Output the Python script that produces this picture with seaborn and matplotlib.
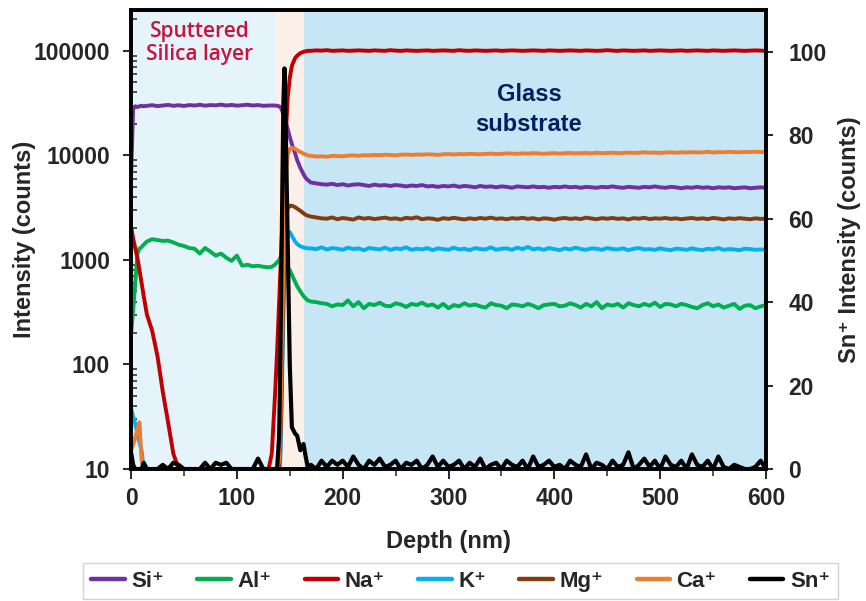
import matplotlib
matplotlib.use("Agg")
import matplotlib.pyplot as plt
from matplotlib.lines import Line2D
from matplotlib.ticker import LogLocator, MultipleLocator, NullFormatter, FuncFormatter
import pandas as pd
import seaborn as sns

# ---------------- depth grids (nm) ----------------
depth_layer = [0, 2, 4, 6, 8, 10, 12, 15, 20, 25, 30, 35, 40, 45, 50, 55, 60, 65, 70,
               75, 80, 85, 90, 95, 100, 105, 110, 115, 120, 125, 130]
depth_iface = [133, 136, 138, 140, 141, 142, 143, 144, 145, 146, 147, 148, 150, 152,
               155, 157, 160, 163, 165, 167]
depth_glass = list(range(170, 601, 5))

# ---------------- Si+ ----------------
si_layer = [6000, 28000, 29500, 29000, 29500, 29800, 29500, 29800, 30200, 29600, 30000,
            30400, 29800, 30200, 29700, 30300, 30000, 30500, 29900, 30300, 30100, 30600,
            30000, 30400, 29900, 30200, 30500, 30000, 30300, 29800, 30000]
si_iface = [30000, 30000, 29800, 29500, 29000, 28000, 26500, 24500, 22500, 21000, 19500,
            18000, 15000, 12800, 10500, 9000, 7600, 6600, 6100, 5800]
si_glass = [5500, 5400, 5300, 5250, 5350, 5200, 5300, 5150, 5250, 5300,
            5200, 5100, 5250, 5150, 5200, 5100, 5200, 5150, 5050, 5150,
            5100, 5200, 5050, 5100, 5000, 5100, 5050, 5150, 5000, 5100,
            5050, 4950, 5100, 5000, 5050, 4950, 5050, 5000, 4900, 5050,
            5000, 4950, 5050, 4950, 5000, 4900, 5000, 4950, 5050, 4950,
            5000, 4900, 5000, 4950, 4900, 5000, 4950, 5050, 4950, 4900,
            5000, 4950, 4900, 5000, 4950, 5050, 4950, 4900, 5000, 4950,
            4850, 4950, 4900, 5000, 4900, 4950, 4850, 4950, 4900, 4950,
            4850, 4900, 4950, 4850, 4900, 4950, 4900]

# ---------------- Al+ ----------------
al_layer = [190, 330, 600, 1150, 1280, 1330, 1400, 1500, 1580, 1550, 1520, 1530, 1470,
            1400, 1360, 1300, 1280, 1150, 1300, 1200, 1100, 1150, 1050, 980, 1100, 880,
            900, 870, 880, 860, 850]
al_iface = [860, 900, 950, 1000, 1050, 1050, 1000, 980, 950, 920, 880, 850, 800, 720,
            620, 560, 500, 450, 430, 410]
al_glass = [400, 395, 385, 380, 360, 375, 370, 410, 360, 395,
            345, 380, 370, 390, 365, 360, 385, 375, 355, 380,
            370, 390, 365, 375, 350, 380, 345, 370, 360, 385,
            365, 375, 360, 350, 385, 370, 365, 345, 375, 370,
            360, 380, 365, 345, 370, 375, 380, 360, 365, 385,
            370, 350, 380, 360, 395, 345, 375, 365, 380, 350,
            385, 370, 360, 380, 365, 390, 355, 380, 375, 360,
            380, 370, 355, 345, 370, 385, 360, 375, 350, 365,
            380, 340, 365, 370, 345, 360, 370]

# ---------------- Na+ ----------------
na_layer = [2100, 1600, 1300, 1050, 800, 600, 450, 300, 210, 120, 55, 28, 14, 10, 10, 10,
            10, 10, 10, 10, 10, 10, 10, 10, 10, 10, 10, 10, 10, 10, 10]
na_iface = [14, 50, 130, 400, 700, 1200, 2200, 4000, 8000, 14000, 22000, 35000, 55000,
            72000, 85000, 90000, 95000, 98000, 99000, 100000]
na_glass = [100000, 101000, 100500, 101500, 100000, 100500, 101000, 100000, 100500, 101000,
            100500, 100000, 101000, 100500, 100000, 101500, 100500, 100000, 101000, 100500,
            100000, 100500, 101000, 100000, 100500, 101000, 100500, 100000, 101500, 100500,
            100000, 101000, 100500, 100000, 100500, 101000, 100000, 100500, 101000, 100500,
            100000, 100500, 101000, 100500, 100000, 101000, 100500, 100000, 100500, 101000,
            100500, 100000, 101000, 100500, 100000, 100500, 101500, 100500, 100000, 101000,
            100500, 100000, 100500, 101000, 100000, 100500, 101000, 100500, 100000, 100500,
            101000, 100000, 100500, 101000, 100500, 100000, 101000, 100500, 100000, 100500,
            101000, 100500, 100000, 100500, 101000, 100500, 100000]

# ---------------- K+ ----------------
k_layer = [38, 32, 27, 22, 18, 15, 10, 10, 10, 10, 10, 10, 10, 10, 10, 10, 10, 10, 10,
           10, 10, 10, 10, 10, 10, 10, 10, 10, 10, 10, 10]
k_iface = [10, 10, 10, 10, 12, 30, 100, 300, 700, 1200, 1600, 1800, 1850, 1700, 1500,
           1420, 1350, 1320, 1300, 1290]
k_glass = [1290, 1270, 1320, 1260, 1300, 1280, 1250, 1310, 1270, 1290,
           1240, 1300, 1280, 1260, 1310, 1250, 1290, 1270, 1320, 1250,
           1280, 1260, 1300, 1240, 1290, 1270, 1250, 1310, 1260, 1280,
           1240, 1300, 1270, 1260, 1320, 1250, 1280, 1290, 1250, 1310,
           1270, 1330, 1260, 1290, 1250, 1300, 1270, 1240, 1290, 1260,
           1310, 1270, 1250, 1290, 1280, 1250, 1300, 1270, 1260, 1290,
           1240, 1280, 1300, 1260, 1270, 1250, 1290, 1260, 1240, 1280,
           1270, 1250, 1290, 1260, 1240, 1280, 1260, 1300, 1250, 1270,
           1260, 1240, 1280, 1270, 1250, 1260, 1250]

# ---------------- Mg+ ----------------
mg_layer = [12, 10, 10, 10, 10, 10, 10, 10, 10, 10, 10, 10, 10, 10, 10, 10, 10, 10, 10,
            10, 10, 10, 10, 10, 10, 10, 10, 10, 10, 10, 10]
mg_iface = [10, 10, 10, 10, 15, 40, 150, 500, 1200, 2000, 2700, 3100, 3300, 3300, 3200,
            3100, 2950, 2800, 2700, 2650]
mg_glass = [2600, 2550, 2500, 2480, 2550, 2450, 2520, 2480, 2430, 2550,
            2480, 2520, 2460, 2500, 2540, 2470, 2500, 2440, 2530, 2490,
            2560, 2450, 2500, 2480, 2420, 2510, 2470, 2530, 2480, 2440,
            2500, 2460, 2520, 2480, 2540, 2470, 2500, 2450, 2510, 2480,
            2530, 2470, 2510, 2440, 2500, 2480, 2430, 2490, 2520, 2470,
            2500, 2460, 2540, 2490, 2450, 2510, 2480, 2520, 2470, 2500,
            2440, 2510, 2480, 2530, 2460, 2500, 2480, 2520, 2470, 2500,
            2450, 2490, 2520, 2470, 2500, 2460, 2520, 2490, 2440, 2500,
            2470, 2510, 2480, 2450, 2500, 2470, 2480]

# ---------------- Ca+ ----------------
ca_layer = [15, 17, 20, 24, 28, 12, 10, 10, 10, 10, 10, 10, 10, 10, 10, 10, 10, 10, 10,
            10, 10, 10, 10, 10, 10, 10, 10, 10, 10, 10, 10]
ca_iface = [10, 10, 10, 12, 25, 80, 300, 900, 2500, 5000, 8000, 10000, 11500, 11800,
            11600, 11200, 10800, 10400, 10200, 10000]
ca_glass = [9900, 9750, 9800, 9700, 9900, 9850, 9800, 9950, 10000, 9900,
            10050, 10000, 10100, 10050, 10150, 10100, 10000, 10150, 10200, 10100,
            10200, 10150, 10250, 10200, 10100, 10250, 10300, 10200, 10300, 10250,
            10350, 10300, 10250, 10350, 10400, 10300, 10350, 10450, 10400, 10350,
            10450, 10400, 10500, 10450, 10350, 10450, 10500, 10400, 10500, 10550,
            10450, 10500, 10550, 10450, 10600, 10500, 10550, 10600, 10500, 10550,
            10650, 10550, 10600, 10700, 10600, 10650, 10550, 10650, 10700, 10600,
            10700, 10650, 10750, 10650, 10700, 10800, 10650, 10750, 10700, 10800,
            10750, 10700, 10800, 10750, 10850, 10750, 10800]

# ---------------- Sn+ (right axis, linear) ----------------
sn_layer = [4, 1, 0, 0, 0, 0, 1.5, 0, 0, 0, 1, 0, 1.5, 1, 0, 0, 0, 0, 1.5, 0, 1.5, 1,
            1.5, 0, 0, 0, 0, 0, 2.5, 0, 0]
sn_iface = [0, 0, 0, 8, 25, 45, 68, 88, 96, 85, 70, 55, 25, 10, 8.5, 8, 4.5, 6, 3, 0.5]
sn_glass = [1, 0, 2, 0.5, 2, 1, 2, 0.5, 3, 1,
            0, 2, 1, 2.5, 0.5, 1, 2, 0, 1.5, 1,
            2, 0, 1, 3, 0.5, 2, 0.5, 1, 2, 0,
            1.5, 0.5, 2.5, 0, 1, 1.5, 0, 2, 1, 0.5,
            2, 0, 3, 0.5, 1, 2, 0.5, 1, 0, 2,
            1, 0.5, 3.5, 0, 1.5, 1, 0, 2, 0.5, 1,
            4, 0, 1, 2.5, 0.5, 2, 0, 3, 1, 0.5,
            2, 0, 3.5, 1, 0.5, 2, 0, 3, 0.5, 0,
            1, 0.5, 0, 0, 0.5, 2, 0]

ion_labels = ["Si⁺", "Al⁺", "Na⁺", "K⁺", "Mg⁺", "Ca⁺", "Sn⁺"]
ion_colors = ["#7030A0", "#00B050", "#C00000", "#00B0F0", "#843C0C", "#ED7D31", "#000000"]

# region boundaries (nm) and fills
region_edges = [0, 136, 163, 600]
region_colors = ["#E5F3FA", "#FBEFEA", "#C6E5F5"]

depth = depth_layer + depth_iface + depth_glass
left_series = [
    si_layer + si_iface + si_glass,
    al_layer + al_iface + al_glass,
    na_layer + na_iface + na_glass,
    k_layer + k_iface + k_glass,
    mg_layer + mg_iface + mg_glass,
    ca_layer + ca_iface + ca_glass,
]
sn = sn_layer + sn_iface + sn_glass

df = pd.concat(
    [pd.DataFrame({"depth": depth, "counts": vals, "ion": name})
     for name, vals in zip(ion_labels[:6], left_series)],
    ignore_index=True,
)
df_sn = pd.DataFrame({"depth": depth, "counts": sn})

sns.set_style("ticks")
plt.rcParams["font.family"] = ["Liberation Sans", "DejaVu Sans"]
plt.rcParams["font.weight"] = "bold"

fig = plt.figure(figsize=(8.66, 6.01), dpi=100)
ax = fig.add_axes([0.1513, 0.2196, 0.7332, 0.7638])

for i in range(3):
    ax.axvspan(region_edges[i], region_edges[i + 1], color=region_colors[i], lw=0, zorder=0)

palette = dict(zip(ion_labels[:6], ion_colors[:6]))
sns.lineplot(data=df, x="depth", y="counts", hue="ion", palette=palette,
             estimator=None, sort=False, linewidth=2.8, legend=False, ax=ax)
ax.set_yscale("log")
ax.set_ylim(10, 2.46e5)
ax.set_xlim(0, 600)

ax2 = ax.twinx()
sns.lineplot(data=df_sn, x="depth", y="counts", color="black", estimator=None,
             sort=False, linewidth=3.0, ax=ax2)
ax2.set_ylim(0, 110)
ax2.set_xlim(0, 600)

# ticks
ax.yaxis.set_major_locator(LogLocator(base=10, numticks=10))
ax.yaxis.set_minor_locator(LogLocator(base=10, subs=range(2, 10), numticks=20))
ax.yaxis.set_minor_formatter(NullFormatter())
ax.yaxis.set_major_formatter(FuncFormatter(lambda v, p: f"{int(round(v))}"))
ax.xaxis.set_major_locator(MultipleLocator(100))
ax.xaxis.set_minor_locator(MultipleLocator(50))
ax.tick_params(axis="y", which="major", direction="out", length=6, width=1.4,
               pad=9, labelsize=16.5)
ax.tick_params(axis="y", which="minor", direction="in", length=4.5, width=1.1)
ax.tick_params(axis="x", which="major", direction="out", length=7, width=1.4,
               pad=6, labelsize=16.5)
ax.tick_params(axis="x", which="minor", direction="out", length=5, width=1.1)

ax2.set_yticks([0, 20, 40, 60, 80, 100])
ax2.tick_params(axis="y", which="major", direction="out", length=5, width=1.4,
                pad=11, labelsize=16.5)

for s in ax.spines.values():
    s.set_linewidth(2.6)
    s.set_color("black")
for s in ax2.spines.values():
    s.set_linewidth(2.6)
    s.set_color("black")

ax.set_xlabel("Depth (nm)", fontsize=17, fontweight="bold", labelpad=14)
ax.set_ylabel("Intensity (counts)", fontsize=17, fontweight="bold", labelpad=-2)
ax2.set_ylabel("Sn⁺ Intensity (counts)", fontsize=17, fontweight="bold", labelpad=8)

# region annotations
ax.text(65, 0.928, "Sputtered\nSilica layer", transform=ax.get_xaxis_transform(),
        ha="center", va="center", color="#C8143C", fontsize=15,
        family=["Open Sans", "DejaVu Sans"], fontweight="semibold", linespacing=1.15)
ax.text(376, 0.783, "Glass\nsubstrate", transform=ax.get_xaxis_transform(),
        ha="center", va="center", color="#002060", fontsize=17,
        fontweight="bold", linespacing=1.4)

handles = [Line2D([0], [0], color=c, lw=3.2) for c in ion_colors]
leg = fig.legend(handles, ion_labels, loc="center", bbox_to_anchor=(0.532, 0.033),
                 ncol=7, frameon=True, fancybox=False, edgecolor="#C8C8C8",
                 fontsize=16, handlelength=1.5, handletextpad=0.3,
                 columnspacing=1.5, borderpad=0.35)
leg.get_frame().set_linewidth(1.0)

fig.savefig("out.png", dpi=100)
